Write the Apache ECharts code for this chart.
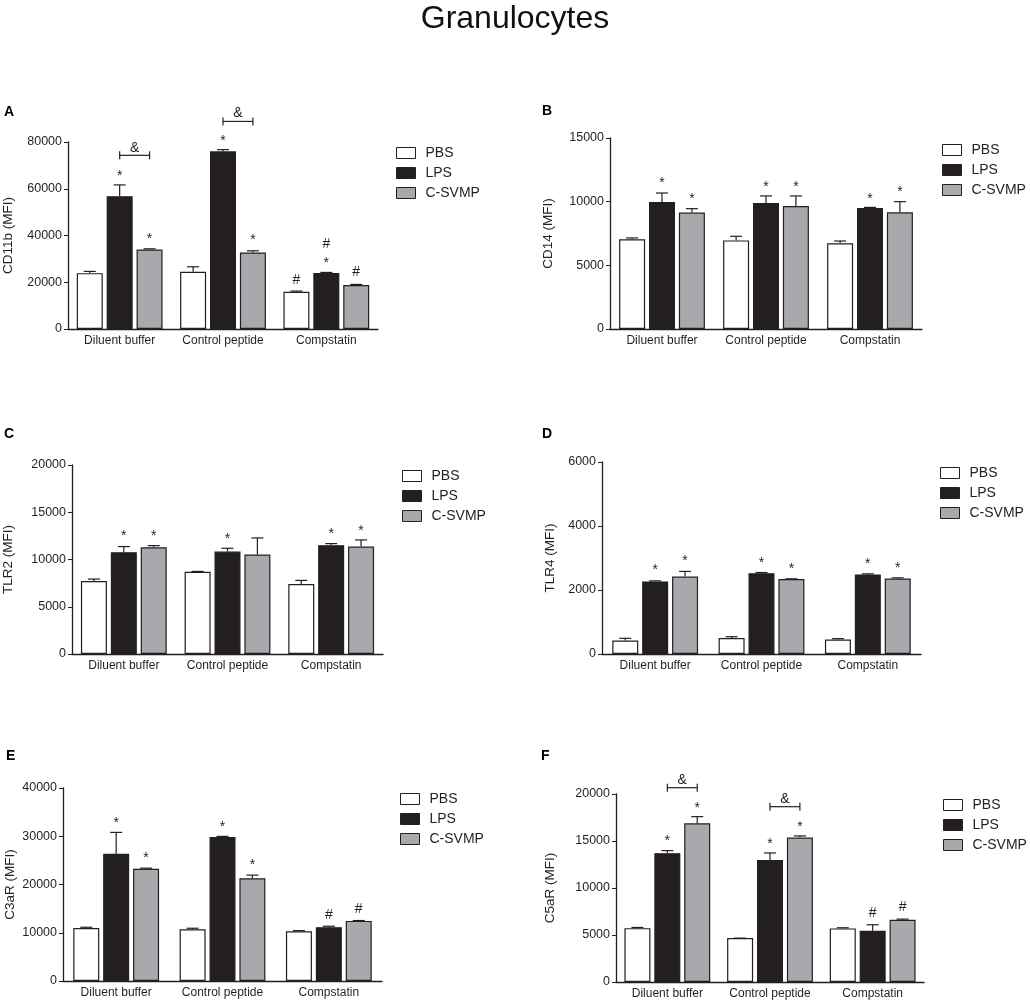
<!DOCTYPE html>
<html>
<head>
<meta charset="utf-8">
<script src="https://cdn.jsdelivr.net/npm/echarts@6/dist/echarts.min.js"></script>
<style>html,body{margin:0;background:#fff}#main{width:1030px;height:1004px}</style>
</head>
<body>
<div id="main"></div>
<script>
var groups = ['Diluent buffer', 'Control peptide', 'Compstatin'];
var treatments = ['PBS', 'LPS', 'C-SVMP'];

// A - CD11b
var cd11b_pbs = [23900, 24480, 15940], cd11b_pbs_sem = [730, 2140, 290];
var cd11b_lps = [56800, 76010, 23910], cd11b_lps_sem = [4840, 720, 290];
var cd11b_svmp = [34020, 32740, 18790], cd11b_svmp_sem = [280, 710, 280];
var cd11b_marks = [[0,1,67300,'*'],[0,2,40300,'*'],[0,1.5,77300,'&'],
                   [1,1,82000,'*'],[1,2,39600,'*'],[1,1.5,92200,'&'],
                   [2,0,21000,'#'],[2,1,30000,'*'],[2,1,36400,'#'],[2,2,24200,'#']];
var cd11b_brackets = [[0,1,2,74300],[1,1,2,88800]];

// B - CD14
var cd14_pbs = [7040, 6960, 6730], cd14_pbs_sem = [110, 320, 180];
var cd14_lps = [9970, 9900, 9500], cd14_lps_sem = [710, 550, 50];
var cd14_svmp = [9140, 9660, 9160], cd14_svmp_sem = [310, 790, 840];
var cd14_marks = [[0,1,11750,'*'],[0,2,10500,'*'],[1,1,11490,'*'],[1,2,11490,'*'],[2,1,10500,'*'],[2,2,11100,'*']];

// C - TLR2
var tlr2_pbs = [7720, 8700, 7400], tlr2_pbs_sem = [210, 40, 390];
var tlr2_lps = [10770, 10840, 11510], tlr2_lps_sem = [600, 350, 170];
var tlr2_svmp = [11300, 10530, 11370], tlr2_svmp_sem = [170, 1750, 700];
var tlr2_marks = [[0,1,12880,'*'],[0,2,12880,'*'],[1,1,12530,'*'],[2,1,13120,'*'],[2,2,13400,'*']];

// D - TLR4
var tlr4_pbs = [420, 500, 450], tlr4_pbs_sem = [70, 40, 30];
var tlr4_lps = [2265, 2526, 2485], tlr4_lps_sem = [20, 20, 20];
var tlr4_svmp = [2420, 2340, 2360], tlr4_svmp_sem = [160, 10, 20];
var tlr4_marks = [[0,1,2735,'*'],[0,2,3030,'*'],[1,1,2965,'*'],[1,2,2766,'*'],[2,1,2945,'*'],[2,2,2820,'*']];

// E - C3aR
var c3ar_pbs = [11000, 10730, 10310], c3ar_pbs_sem = [140, 200, 140];
var c3ar_lps = [26370, 29830, 11140], c3ar_lps_sem = [4430, 140, 210];
var c3ar_svmp = [23250, 21310, 12460], c3ar_svmp_sem = [140, 630, 70];
var c3ar_marks = [[0,1,33560,'*'],[0,2,26370,'*'],[1,1,32730,'*'],[1,2,24780,'*'],[2,1,13700,'#'],[2,2,14950,'#']];

// F - C5aR
var c5ar_pbs = [5730, 4670, 5700], c5ar_pbs_sem = [70, 0, 70];
var c5ar_lps = [13700, 12990, 5450], c5ar_lps_sem = [280, 740, 640];
var c5ar_svmp = [16880, 15360, 6620], c5ar_svmp_sem = [710, 180, 70];
var c5ar_marks = [[0,1,15360,'*'],[0,2,18900,'*'],[0,1.5,21490,'&'],
                  [1,1,15040,'*'],[1,2,16880,'*'],[1,1.5,19470,'&'],
                  [2,1,7330,'#'],[2,2,7960,'#']];
var c5ar_brackets = [[0,1,2,20670],[1,1,2,18650]];

var ink = '#231f20';
var fills = ['#ffffff', '#231f20', '#a7a9ac'];
var font = 'Arial, "Liberation Sans", sans-serif';
var barW = 26, step = barW * 1.15;

var panels = [
  {letter:'A', name:'CD11b (MFI)', max:80000, interval:20000, vals:[cd11b_pbs,cd11b_lps,cd11b_svmp], sems:[cd11b_pbs_sem,cd11b_lps_sem,cd11b_svmp_sem], marks:cd11b_marks, brackets:cd11b_brackets,
   grid:{left:68, top:142, width:310, height:187}, gap:53, legend:[396,146], lp:[10,113]},
  {letter:'B', name:'CD14 (MFI)', max:15000, interval:5000, vals:[cd14_pbs,cd14_lps,cd14_svmp], sems:[cd14_pbs_sem,cd14_lps_sem,cd14_svmp_sem], marks:cd14_marks, brackets:[],
   grid:{left:610, top:138, width:312, height:191}, gap:55, legend:[942,143], lp:[548,112]},
  {letter:'C', name:'TLR2 (MFI)', max:20000, interval:5000, vals:[tlr2_pbs,tlr2_lps,tlr2_svmp], sems:[tlr2_pbs_sem,tlr2_lps_sem,tlr2_svmp_sem], marks:tlr2_marks, brackets:[],
   grid:{left:70, top:465, width:313, height:189}, gap:57, legend:[402,469], lp:[10,435]},
  {letter:'D', name:'TLR4 (MFI)', max:6000, interval:2000, vals:[tlr4_pbs,tlr4_lps,tlr4_svmp], sems:[tlr4_pbs_sem,tlr4_lps_sem,tlr4_svmp_sem], marks:tlr4_marks, brackets:[],
   grid:{left:602, top:462, width:319, height:192}, gap:45, legend:[940,466], lp:[548,435]},
  {letter:'E', name:'C3aR (MFI)', max:40000, interval:10000, vals:[c3ar_pbs,c3ar_lps,c3ar_svmp], sems:[c3ar_pbs_sem,c3ar_lps_sem,c3ar_svmp_sem], marks:c3ar_marks, brackets:[],
   grid:{left:63, top:788, width:319, height:193}, gap:46, legend:[400,792], lp:[12,757]},
  {letter:'F', name:'C5aR (MFI)', max:20000, interval:5000, vals:[c5ar_pbs,c5ar_lps,c5ar_svmp], sems:[c5ar_pbs_sem,c5ar_lps_sem,c5ar_svmp_sem], marks:c5ar_marks, brackets:c5ar_brackets,
   grid:{left:616, top:794, width:308, height:188}, gap:59, legend:[943,798], lp:[547,757]}
];

var option = {
  animation: false,
  textStyle: {fontFamily: font},
  grid: [], xAxis: [], yAxis: [], legend: [], series: [],
  graphic: [{type:'text', left:'center', top:3, style:{text:'Granulocytes', font:'32px ' + font, fill:'#111'}}]
};

panels.forEach(function (p, k) {
  option.grid.push(p.grid);
  option.xAxis.push({
    type:'category', gridIndex:k, data:groups,
    axisLine:{lineStyle:{color:ink, width:1.3}},
    axisTick:{alignWithLabel:true, length:4, lineStyle:{color:ink}},
    axisLabel:{color:ink, fontSize:12, margin:6, interval:0}
  });
  option.yAxis.push({
    type:'value', gridIndex:k, min:0, max:p.max, interval:p.interval,
    name:p.name, nameLocation:'middle', nameGap:p.gap,
    nameTextStyle:{color:ink, fontSize:13.5},
    axisLine:{show:true, lineStyle:{color:ink, width:1.3}},
    axisTick:{show:true, length:4, lineStyle:{color:ink}},
    axisLabel:{color:ink, fontSize:12.5, margin:6, formatter:function (v) { return String(v); }},
    splitLine:{show:false}
  });
  option.legend.push({
    orient:'vertical', left:p.legend[0], top:p.legend[1], data:treatments, padding:0,
    icon:'rect', itemWidth:19, itemHeight:11, itemGap:6, selectedMode:false,
    itemStyle:{borderColor:ink, borderWidth:1},
    textStyle:{color:ink, fontSize:14, lineHeight:14, padding:[0,0,0,5]}
  });
  option.graphic.push({type:'text', left:p.lp[0] - 6, top:p.lp[1] - 8,
    style:{text:p.letter, font:'bold 14px ' + font, fill:'#000'}});

  var errs = [];
  treatments.forEach(function (t, i) {
    option.series.push({
      type:'bar', name:t, xAxisIndex:k, yAxisIndex:k, data:p.vals[i],
      barWidth:barW, barGap:'15%', z:2,
      itemStyle:{color:fills[i], borderColor:ink, borderWidth:1.2}
    });
    p.vals[i].forEach(function (v, c) { errs.push([c, i, v, p.sems[i][c]]); });
  });

  // error bars (upper only)
  option.series.push({
    type:'custom', xAxisIndex:k, yAxisIndex:k, z:3,
    data: errs.map(function (e) { return [e[0], e[2] + e[3]]; }),
    renderItem: function (params, api) {
      var e = errs[params.dataIndex];
      var b = api.coord([e[0], e[2]]);
      var t = api.coord([e[0], e[2] + e[3]]);
      var x = b[0] + (e[1] - 1) * step;
      var st = {stroke:ink, lineWidth:1.2};
      return {type:'group', children:[
        {type:'line', shape:{x1:x, y1:b[1], x2:x, y2:t[1]}, style:st},
        {type:'line', shape:{x1:x - 6, y1:t[1], x2:x + 6, y2:t[1]}, style:st}
      ]};
    }
  });

  // significance marks
  option.series.push({
    type:'custom', xAxisIndex:k, yAxisIndex:k, z:4,
    data: p.marks.map(function (m) { return [m[0], m[2]]; }),
    renderItem: function (params, api) {
      var m = p.marks[params.dataIndex];
      var c = api.coord([m[0], m[2]]);
      var x = c[0] + (m[1] - 1) * step;
      var dy = m[3] === '*' ? 4 : 0;
      return {type:'text', x:x, y:c[1] + dy,
        style:{text:m[3], font:'14px ' + font, fill:ink, textAlign:'center', textVerticalAlign:'middle'}};
    }
  });

  if (p.brackets.length) {
    option.series.push({
      type:'custom', xAxisIndex:k, yAxisIndex:k, z:4,
      data: p.brackets.map(function (b) { return [b[0], b[3]]; }),
      renderItem: function (params, api) {
        var b = p.brackets[params.dataIndex];
        var c = api.coord([b[0], b[3]]);
        var x1 = c[0] + (b[1] - 1) * step, x2 = c[0] + (b[2] - 1) * step;
        var st = {stroke:ink, lineWidth:1.2};
        return {type:'group', children:[
          {type:'line', shape:{x1:x1, y1:c[1], x2:x2, y2:c[1]}, style:st},
          {type:'line', shape:{x1:x1, y1:c[1] - 4, x2:x1, y2:c[1] + 4}, style:st},
          {type:'line', shape:{x1:x2, y1:c[1] - 4, x2:x2, y2:c[1] + 4}, style:st}
        ]};
      }
    });
  }
});

var chart = echarts.init(document.getElementById('main'));
chart.setOption(option);
</script>
</body>
</html>
